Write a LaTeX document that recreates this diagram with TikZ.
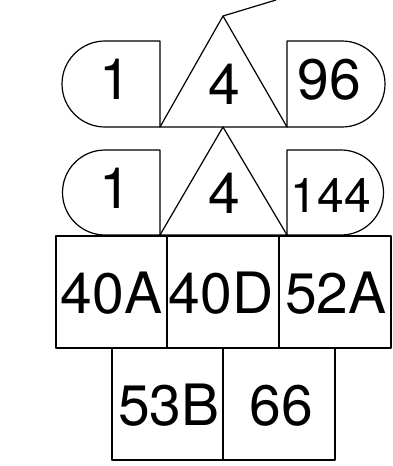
\documentclass[tikz,border=0pt]{standalone}
\usepackage{fontspec}
\setmainfont{TeX Gyre Heros}
\begin{document}
\begin{tikzpicture}[x=1pt,y=1pt,
  shp/.style={draw=black,line width=1.2pt,line join=round},
  lbl/.style={anchor=base,inner sep=0pt,font=\fontsize{57}{60}\selectfont},
  lbls/.style={anchor=base,inner sep=0pt,font=\fontsize{48}{50}\selectfont}]
\useasboundingbox (0,0) rectangle (392,-466);
% row 1
\draw[shp] (160,-41) -- (105,-41) arc (90:270:43) -- (160,-127) -- cycle;
\draw[shp] (160,-127) -- (223,-16) -- (287,-127) -- cycle;
\draw[shp] (287,-41) -- (342,-41) arc (90:-90:43) -- (287,-127) -- cycle;
% row 2
\draw[shp] (160,-150) -- (105,-150) arc (90:270:42.5) -- (160,-235) -- cycle;
\draw[shp] (160,-235) -- (223,-127) -- (287,-235) -- cycle;
\draw[shp] (287,-150) -- (341,-150) arc (90:-90:42.5) -- (287,-235) -- cycle;
% row 3
\draw[shp] (56,-236) rectangle (167,-348);
\draw[shp] (167,-236) rectangle (279,-348);
\draw[shp] (279,-236) rectangle (391,-348);
% row 4
\draw[shp] (112,-348) rectangle (223,-460);
\draw[shp] (223,-348) rectangle (335,-460);
% connector
\coordinate (apex) at (223,-16);
\coordinate (out) at (276,0);
\draw[shp] (apex) -- (out);
% labels
\node[lbl] (a1) at (115,-99) {1};
\node[lbl] (a2) at (224,-104) {4};
\node[lbl] (a3) at (329,-99) {96};
\node[lbl] (b1) at (115,-208) {1};
\node[lbl] (b2) at (224,-213) {4};
\node[lbls] (b3) at (331,-212) {144};
\node[lbl] (c1) at (111.5,-313) {40A};
\node[lbl] (c2) at (221,-313) {40D};
\node[lbl] (c3) at (336,-313) {52A};
\node[lbl] (d1) at (169,-425) {53B};
\node[lbl] (d2) at (281,-425) {66};
\end{tikzpicture}
\end{document}
